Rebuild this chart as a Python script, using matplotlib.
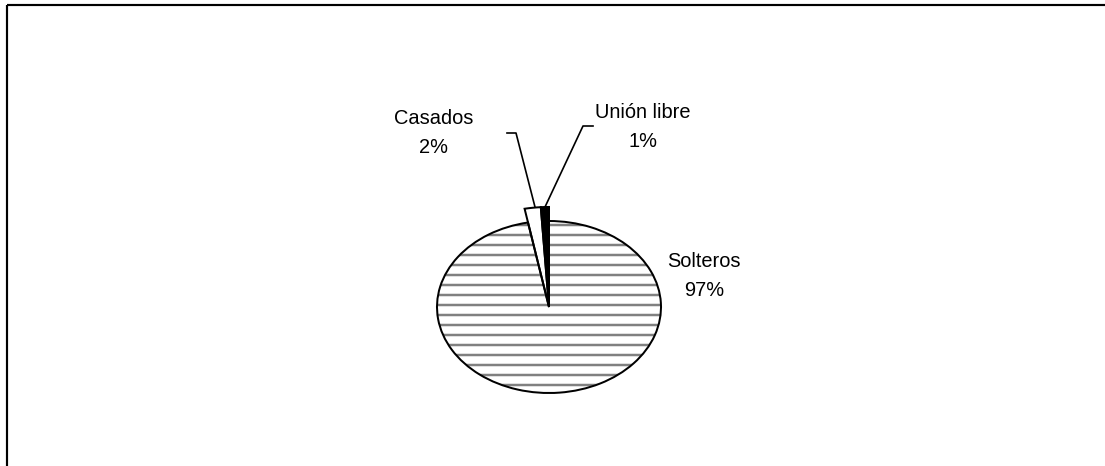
import matplotlib.pyplot as plt
from matplotlib.patches import Rectangle

categories = ["Solteros", "Casados", "Unión libre"]
values = [97, 2, 1]
labels = ["Solteros\n97%", "Casados\n2%", "Unión libre\n1%"]

plt.rcParams['font.family'] = ['Liberation Sans', 'DejaVu Sans']
plt.rcParams['hatch.linewidth'] = 1.5

W, H, DPI = 1105, 466, 120
fig = plt.figure(figsize=(W / DPI, H / DPI), dpi=DPI)
fig.patch.set_facecolor('white')

# pie axes: 1 data unit = 112 px wide, 86 px tall, centre at (549, 307)
cx, cy, rx, ry = 549, 307, 112, 86
span = 1.5
ax = fig.add_axes([(cx - span * rx) / W, (H - cy - span * ry) / H,
                   2 * span * rx / W, 2 * span * ry / H])

# fill pass
wedges, _ = ax.pie(values, startangle=90, counterclock=False,
                   colors=['white', 'white', 'black'],
                   wedgeprops=dict(linewidth=0))
wedges[0].set_edgecolor('#808080')
wedges[0].set_hatch('--')
# outline pass
outlines, _ = ax.pie(values, startangle=90, counterclock=False,
                     wedgeprops=dict(fill=False, edgecolor='black', linewidth=1.2))
for w in list(wedges[1:]) + list(outlines[1:]):
    w.set_radius(1.163)

ax.set_xlim(-span, span)
ax.set_ylim(-span, span)
ax.set_aspect('auto')
ax.axis('off')

# overlay in pixel coordinates for frame, labels and leader lines
ov = fig.add_axes([0, 0, 1, 1], facecolor='none')
ov.set_xlim(0, W)
ov.set_ylim(H, 0)
ov.axis('off')

ov.add_patch(Rectangle((7, 5), W + 20, H + 20, fill=False,
                       edgecolor='black', linewidth=1.3))

ov.plot([507, 516, 535], [133, 133, 207], color='black', linewidth=1.0)
ov.plot([593, 583, 545], [126, 126, 207], color='black', linewidth=1.0)

label_pos = [(704, 276), (434, 133), (643, 127)]
for txt, (x, y) in zip(labels, label_pos):
    ov.text(x, y, txt, ha='center', va='center', fontsize=12,
            linespacing=1.7, color='black')

fig.savefig('out.png', dpi=DPI)
